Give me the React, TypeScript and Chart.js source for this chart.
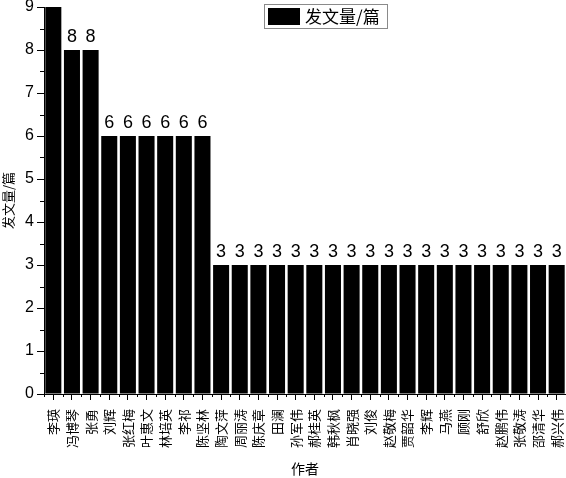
import React, { useEffect, useRef } from "react";
import { Chart, registerables } from "chart.js";

Chart.register(...registerables);

const authors = [
  "李瑛", "冯博琴", "张勇", "刘辉", "张红梅", "叶惠文", "林培英", "李祁", "陈坚林",
  "陶文萍", "周丽涛", "陈庆章", "田澜", "孙军伟", "郝桂英", "韩秋枫", "肖晓强", "刘俊",
  "赵敬梅", "贾韶华", "李辉", "马燕", "顾刚", "舒欣", "赵鹏伟", "张敬涛", "邵清华", "郝兴伟",
];
const counts = [9, 8, 8, 6, 6, 6, 6, 6, 6, 3, 3, 3, 3, 3, 3, 3, 3, 3, 3, 3, 3, 3, 3, 3, 3, 3, 3, 3];
const seriesLabel = "发文量/篇";
const yTitle = "发文量/篇";
const xTitle = "作者";
const yMin = 0;
const yMax = 9;

const NUM_FONT = "'Liberation Sans', Arial, sans-serif";
const CJK_FONT = "'Noto Sans CJK SC', 'Liberation Sans', sans-serif";

const extrasPlugin = {
  id: "extras",
  afterDatasetsDraw(chart: any) {
    const ctx = chart.ctx;
    const meta = chart.getDatasetMeta(0);
    const area = chart.chartArea;
    ctx.save();
    ctx.fillStyle = "#000";
    ctx.font = `18px ${NUM_FONT}`;
    ctx.textAlign = "center";
    ctx.textBaseline = "bottom";
    meta.data.forEach((bar: any, i: number) => {
      if (bar.y <= area.top + 1) return;
      ctx.fillText(String(counts[i]), bar.x, bar.y - 4);
    });
    ctx.restore();
  },
  afterDraw(chart: any) {
    const ctx = chart.ctx;
    const area = chart.chartArea;
    const ys = chart.scales.y;
    ctx.save();
    ctx.strokeStyle = "#000";
    ctx.lineWidth = 1;
    const n = authors.length;
    const w = (area.right - area.left) / n;
    ctx.beginPath();
    for (let i = 0; i <= n; i++) {
      const x = Math.round(area.left + i * w) + 0.5;
      ctx.moveTo(x, area.bottom);
      ctx.lineTo(x, area.bottom + 3);
    }
    for (let v = yMin + 0.5; v < yMax; v += 1) {
      const y = Math.round(ys.getPixelForValue(v)) + 0.5;
      ctx.moveTo(area.left, y);
      ctx.lineTo(area.left - 4, y);
    }
    ctx.stroke();

    const lx = 264, ly = 4, lw = 123, lh = 24;
    ctx.fillStyle = "#fff";
    ctx.fillRect(lx, ly, lw, lh);
    ctx.strokeStyle = "#8a8a8a";
    ctx.strokeRect(lx + 0.5, ly + 0.5, lw, lh);
    ctx.fillStyle = "#000";
    ctx.fillRect(lx + 4, ly + 4, 32, 17);
    ctx.font = `17px ${CJK_FONT}`;
    ctx.textAlign = "left";
    ctx.textBaseline = "middle";
    ctx.fillText(seriesLabel, lx + 41, ly + 13);
    ctx.restore();
  },
};

export default function App() {
  const ref = useRef<HTMLCanvasElement | null>(null);
  useEffect(() => {
    document.body.style.margin = "0";
    const canvas = ref.current!;
    const chart = new Chart(canvas, {
      type: "bar",
      data: {
        labels: authors,
        datasets: [
          {
            label: seriesLabel,
            data: counts,
            backgroundColor: "#000",
            borderColor: "#000",
            borderWidth: 0,
            barPercentage: 0.86,
            categoryPercentage: 1,
          },
        ],
      },
      options: {
        responsive: false,
        animation: false,
        devicePixelRatio: 1,
        layout: { padding: { top: 7, right: 0, left: 0, bottom: 0 } },
        plugins: {
          legend: { display: false },
          tooltip: { enabled: false },
        },
        scales: {
          x: {
            afterFit(scale: any) {
              scale.height = 84;
              scale.paddingLeft = 0;
              scale.paddingRight = 0;
            },
            grid: {
              display: true,
              drawOnChartArea: false,
              offset: false,
              tickLength: 6,
              color: "#000",
            },
            border: { display: true, color: "#000", width: 1 },
            ticks: {
              autoSkip: false,
              maxRotation: 90,
              minRotation: 90,
              padding: 9,
              color: "#000",
              font: { family: CJK_FONT, size: 13 },
            },
            title: {
              display: true,
              text: xTitle,
              color: "#000",
              font: { family: CJK_FONT, size: 14 },
              padding: { top: 0, bottom: 1 },
            },
          },
          y: {
            min: yMin,
            max: yMax,
            afterFit(scale: any) {
              scale.width = 44;
              scale.paddingTop = 0;
              scale.paddingBottom = 0;
            },
            grid: {
              display: true,
              drawOnChartArea: false,
              tickLength: 7,
              color: "#000",
            },
            border: { display: true, color: "#000", width: 1 },
            ticks: {
              stepSize: 1,
              padding: 3,
              color: "#000",
              font: { family: NUM_FONT, size: 16 },
            },
            title: {
              display: true,
              text: yTitle,
              color: "#000",
              font: { family: CJK_FONT, size: 13 },
              padding: { top: 0, bottom: 0 },
            },
          },
        },
      },
      plugins: [extrasPlugin],
    });
    return () => chart.destroy();
  }, []);
  return (
    <div style={{ width: 566, height: 478 }}>
      <canvas ref={ref} width={566} height={478} />
    </div>
  );
}
